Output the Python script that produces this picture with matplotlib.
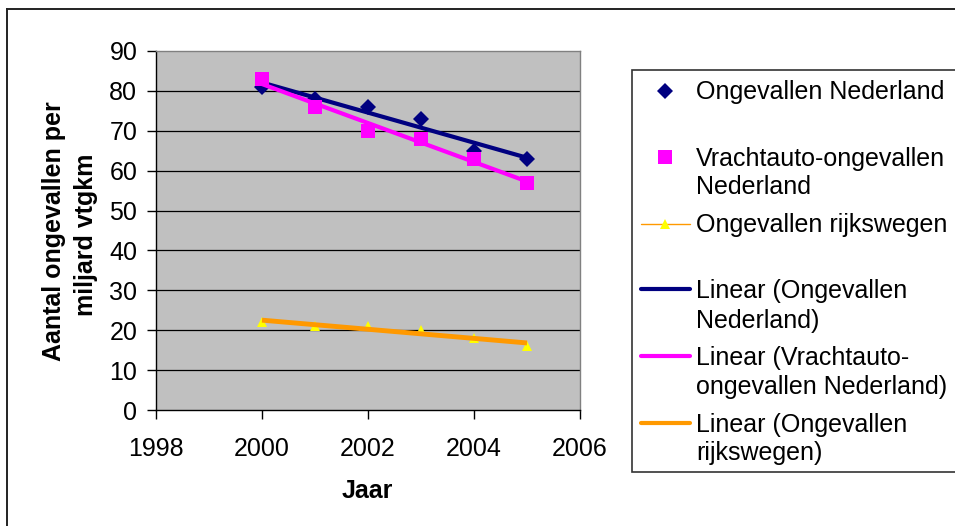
import numpy as np
import matplotlib
matplotlib.use("Agg")
import matplotlib.pyplot as plt
from matplotlib.lines import Line2D
from matplotlib.patches import Rectangle

plt.rcParams['font.family'] = ['Liberation Sans', 'DejaVu Sans']

# --- data -------------------------------------------------------------
years = [2000, 2001, 2002, 2003, 2004, 2005]
ongevallen_nl = [81, 78, 76, 73, 65, 63]
vrachtauto_nl = [83, 76, 70, 68, 63, 57]
rijkswegen = [22, 21, 21, 20, 18, 16]

x_ticks = [1998, 2000, 2002, 2004, 2006]
y_ticks = [0, 10, 20, 30, 40, 50, 60, 70, 80, 90]

legend_lines = [
    ["Ongevallen Nederland"],
    ["Vrachtauto-ongevallen", "Nederland"],
    ["Ongevallen rijkswegen"],
    ["Linear (Ongevallen", "Nederland)"],
    ["Linear (Vrachtauto-", "ongevallen Nederland)"],
    ["Linear (Ongevallen", "rijkswegen)"],
]
y_label_lines = ["Aantal ongevallen per", "miljard vtgkm"]
x_label = "Jaar"

NAVY = "#000080"
MAGENTA = "#FF00FF"
YELLOW = "#FFFF00"
ORANGE = "#FF9900"
FS = 18

W, H = 955, 526
fig = plt.figure(figsize=(W / 100, H / 100), dpi=100)


def fx(px):
    return px / W


def fy(py):
    return 1 - py / H


# plot area
ax = fig.add_axes([fx(156), fy(410), fx(580) - fx(156), fy(51) - fy(410)])
ax.set_facecolor("#C0C0C0")
ax.set_xlim(1998, 2006)
ax.set_ylim(0, 90)
ax.set_xticks(x_ticks)
ax.set_yticks(y_ticks)
ax.tick_params(axis="both", labelsize=FS, direction="out", length=6.5,
               width=1.0, color="black")
ax.tick_params(axis="y", pad=7)
ax.tick_params(axis="x", pad=13)
for spine in ("left", "bottom"):
    ax.spines[spine].set_color("black")
    ax.spines[spine].set_linewidth(1.0)
for spine in ("top", "right"):
    ax.spines[spine].set_color("#808080")
    ax.spines[spine].set_linewidth(1.0)

for yv in y_ticks[1:-1]:
    ax.axhline(yv, color="black", lw=0.9, zorder=1)

yrs = np.array(years, dtype=float)


def trend(vals):
    k, b = np.polyfit(yrs, np.array(vals, dtype=float), 1)
    return k * yrs + b


ax.plot(years, ongevallen_nl, linestyle="none", marker="D", ms=8,
        color=NAVY, mew=0, zorder=3)
ax.plot(years, trend(ongevallen_nl), color=NAVY, lw=3, zorder=4,
        solid_capstyle="butt")
ax.plot(years, vrachtauto_nl, linestyle="none", marker="s", ms=10.5,
        color=MAGENTA, mew=0, zorder=5)
ax.plot(years, trend(vrachtauto_nl), color=MAGENTA, lw=3, zorder=6,
        solid_capstyle="butt")
ax.plot(years, rijkswegen, linestyle="none", marker="^", ms=7,
        color=YELLOW, mew=0, zorder=7)
ax.plot(years, trend(rijkswegen), color=ORANGE, lw=3.5, zorder=8,
        solid_capstyle="butt")

# axis titles
fig.text(fx(61), fy(231), y_label_lines[0], rotation=90, rotation_mode="anchor",
         ha="center", va="baseline", fontsize=FS, fontweight="bold")
fig.text(fx(93), fy(235), y_label_lines[1], rotation=90, rotation_mode="anchor",
         ha="center", va="baseline", fontsize=FS, fontweight="bold")
fig.text(fx(367), fy(498), x_label, ha="center", va="baseline",
         fontsize=FS, fontweight="bold")

# outer chart border
fig.add_artist(Line2D([fx(7), fx(960)], [fy(9), fy(9)], color="#222222", lw=1.4))
fig.add_artist(Line2D([fx(7), fx(7)], [fy(9), fy(530)], color="#222222", lw=1.4))

# legend box
fig.add_artist(Rectangle((fx(632), fy(472)), fx(960) - fx(632), fy(70) - fy(472),
                         facecolor="white", edgecolor="#333333", lw=1.2))

handle_x = (fx(641), fx(690))
mx = fx(665)
handles = [
    dict(marker="D", ms=8, color=NAVY, line=False, y=91),
    dict(marker="s", ms=10.5, color=MAGENTA, line=False, y=157),
    dict(marker="^", ms=7, color=YELLOW, line=True, lcolor=ORANGE, lw=1, y=224),
    dict(marker=None, color=NAVY, line=True, lcolor=NAVY, lw=3, y=289),
    dict(marker=None, color=MAGENTA, line=True, lcolor=MAGENTA, lw=3, y=356),
    dict(marker=None, color=ORANGE, line=True, lcolor=ORANGE, lw=3, y=423),
]
baselines = [[99], [166, 194], [232], [298, 328], [365, 394], [432, 460]]

for h, texts, bls in zip(handles, legend_lines, baselines):
    if h["line"]:
        fig.add_artist(Line2D(list(handle_x), [fy(h["y"])] * 2, color=h["lcolor"],
                              lw=h["lw"], solid_capstyle="round"))
    if h["marker"]:
        fig.add_artist(Line2D([mx], [fy(h["y"])], marker=h["marker"], ms=h["ms"],
                              color=h["color"], mew=0, linestyle="none"))
    for t, b in zip(texts, bls):
        fig.text(fx(696), fy(b), t, ha="left", va="baseline", fontsize=FS)

fig.savefig("out.png", dpi=100)
